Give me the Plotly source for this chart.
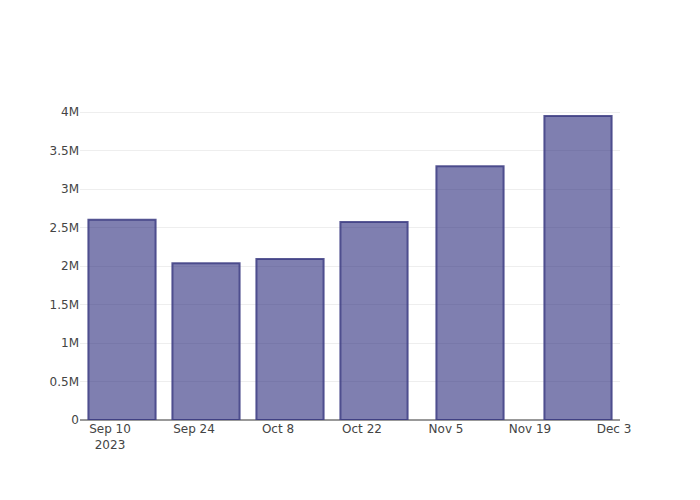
import plotly.graph_objects as go

dates = ["2023-09-12", "2023-09-26", "2023-10-10", "2023-10-24", "2023-11-09", "2023-11-27"]
values = [2600000, 2035000, 2090000, 2570000, 3295000, 3948000]

fig = go.Figure(
    go.Bar(
        x=dates,
        y=values,
        marker=dict(
            color="rgba(42,42,123,0.6)",
            line=dict(color="rgba(60,60,130,0.85)", width=2),
        ),
    )
)

fig.update_layout(
    template="none",
    width=700,
    height=500,
    paper_bgcolor="white",
    plot_bgcolor="white",
    font=dict(family="DejaVu Sans", size=12, color="#444"),
    margin=dict(l=80, r=80, t=100, b=80),
    showlegend=False,
)
fig.update_xaxes(
    type="date",
    showgrid=False,
    showline=False,
    ticks="",
    dtick=14 * 24 * 3600 * 1000,
    tick0="2023-09-10",
)
fig.update_yaxes(
    showgrid=True,
    gridcolor="#eee",
    zeroline=True,
    zerolinecolor="#999",
    zerolinewidth=2,
    ticks="",
    dtick=500000,
)
fig.write_html("out.html")
